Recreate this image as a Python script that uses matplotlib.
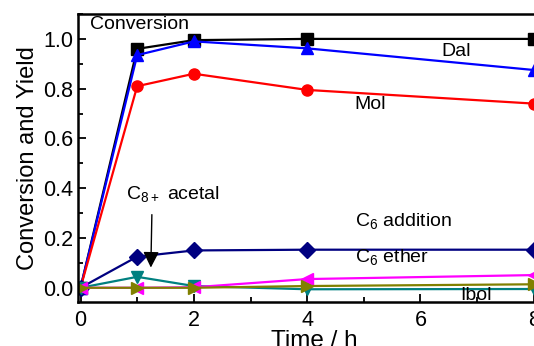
import matplotlib
matplotlib.use("Agg")
import matplotlib.pyplot as plt
from matplotlib.ticker import MultipleLocator

plt.rcParams["font.family"] = ["Liberation Sans", "DejaVu Sans"]
plt.rcParams["mathtext.fontset"] = "custom"
plt.rcParams["mathtext.rm"] = "Liberation Sans"

time_h = [0, 1, 2, 4, 8]
conversion = [0.0, 0.96, 0.995, 1.0, 1.0]
dal = [0.0, 0.935, 0.99, 0.962, 0.875]
mol = [0.0, 0.81, 0.86, 0.795, 0.74]
c6_addition = [0.0, 0.125, 0.15, 0.153, 0.153]
c8_acetal = [0.0, 0.044, 0.007, -0.006, -0.005]
c6_ether = [0.0, 0.0, 0.002, 0.035, 0.051]
ibol = [0.0, 0.0, 0.0, 0.007, 0.014]

series = [
    (conversion, "black", "s"),
    (dal, "blue", "^"),
    (mol, "red", "o"),
    (c6_addition, "#000080", "D"),
    (c8_acetal, "#008080", "v"),
    (c6_ether, "magenta", "<"),
    (ibol, "#808000", ">"),
]

fig = plt.figure(figsize=(5.34, 3.46), dpi=100)
ax = fig.add_axes([0.1455, 0.128, 0.886, 0.8315])

for vals, col, mk in series:
    ax.plot(time_h, vals, color=col, marker=mk, markersize=8, linewidth=1.6)

ax.set_xlim(-0.05, 8.3)
ax.set_ylim(-0.056, 1.10)
ax.xaxis.set_major_locator(MultipleLocator(2))
ax.xaxis.set_minor_locator(MultipleLocator(1))
ax.yaxis.set_major_locator(MultipleLocator(0.2))
ax.yaxis.set_minor_locator(MultipleLocator(0.1))
ax.yaxis.set_major_formatter(matplotlib.ticker.FormatStrFormatter("%.1f"))
ax.tick_params(which="both", direction="in", labelsize=15.5, width=1.3)
ax.tick_params(which="major", length=6)
ax.tick_params(axis="y", which="major", pad=3)
ax.tick_params(axis="x", which="major", pad=6)
ax.tick_params(which="minor", length=3.5)
for sp in ax.spines.values():
    sp.set_linewidth(1.8)

ax.set_xlabel("Time / h", fontsize=17.5, labelpad=-1)
ax.set_ylabel("Conversion and Yield", fontsize=17, labelpad=3)

fs = 14
ax.text(0.175, 1.057, "Conversion", fontsize=fs, va="center")
ax.text(6.37, 0.949, "Dal", fontsize=fs, va="center")
ax.text(4.84, 0.735, "Mol", fontsize=fs, va="center")
ax.text(0.81, 0.373, r"C$_{8+}$ acetal", fontsize=fs, va="center")
ax.text(4.84, 0.265, r"C$_6$ addition", fontsize=fs, va="center")
ax.text(4.84, 0.12, r"C$_6$ ether", fontsize=fs, va="center")
ax.text(6.7, -0.03, "Ibol", fontsize=fs, va="center")
ax.annotate("", xy=(1.24, 0.07), xytext=(1.26, 0.305),
            arrowprops=dict(arrowstyle="-|>", color="black", lw=1,
                            mutation_scale=24))

fig.savefig("out.png", dpi=100)
